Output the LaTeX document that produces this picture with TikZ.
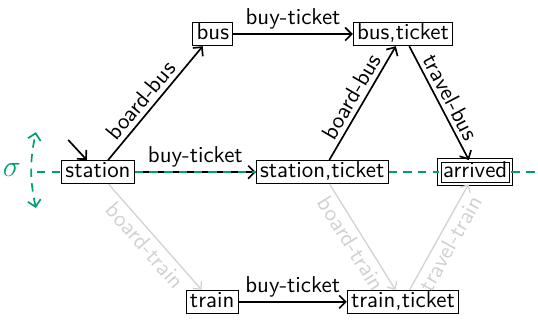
\documentclass[tikz,border=0pt]{standalone}
\usepackage{amsmath,amssymb}
\usepackage{xcolor}
\usepackage{tikz}
\usetikzlibrary{arrows.meta}
\usetikzlibrary{positioning}
\definecolor{verde}{RGB}{0,158,115}
\tikzset{
  estado/.style={draw, fill=white, inner sep=1.8pt, text height=1.5ex, text depth=.25ex, font=\fontsize{10.9}{13}\sffamily},
  final/.style={estado, double, double distance=1.2pt},
  seta/.style={-Straight Barb, thick},
  apagada/.style={seta, semithick, black!18, text=black!18},
  rotulo/.style={font=\fontsize{10.9}{13}\sffamily, sloped, inner sep=2pt},
  corte/.style={verde, thick, dash pattern=on 4pt off 3pt},
}

\begin{document}
\begin{tikzpicture}
  \useasboundingbox (0,0) rectangle (9,5.37);
  % states
  \node[estado] (station) at (1.64,2.49) {station};
  \node[estado] (bus) at (3.56,4.80) {bus};
  \node[estado] (busticket) at (6.74,4.80) {bus,ticket};
  \node[estado] (stticket) at (5.39,2.49) {station,ticket};
  \node[final] (arrived) at (7.95,2.49) {arrived};
  \node[estado] (train) at (3.55,0.32) {train};
  \node[estado] (trticket) at (6.74,0.32) {train,ticket};
  \coordinate (init) at (1.14,3.03);
  % transitions
  \draw[seta] (init) -- (station);
  \draw[seta] (station) -- node[rotulo, above, pos=.45] {board-bus} (bus);
  \draw[seta] (bus) -- node[rotulo, above] {buy-ticket} (busticket);
  \draw[seta] (station) -- node[rotulo, above] {buy-ticket} (stticket);
  \draw[seta] (stticket) -- node[rotulo, above] {board-bus} (busticket);
  \draw[seta] (busticket) -- node[rotulo, above] {travel-bus} (arrived);
  \draw[seta] (train) -- node[rotulo, above] {buy-ticket} (trticket);
  \draw[apagada] (station) -- node[rotulo, below] {board-train} (train);
  \draw[apagada] (stticket) -- node[rotulo, below] {board-train} (trticket);
  \draw[apagada] (trticket) -- node[rotulo, below] {travel-train} (arrived);
  % the cut
  \coordinate (cini) at (0.62,2.49);
  \coordinate (cfim) at (9,2.49);
  \coordinate (ctopo) at (0.60,3.16);
  \coordinate (cbase) at (0.60,1.89);
  \node[text=verde, font=\Large] (sigma) at (0.20,2.53) {$\sigma$};
  \draw[corte] (cini) -- (station.west);
  \draw[corte] (station.east) -- (stticket.west);
  \draw[corte] (stticket.east) -- (arrived.west);
  \draw[corte] (arrived.east) -- (cfim);
  \draw[corte, Straight Barb-Straight Barb] (cbase) to[bend left=12] (ctopo);
\end{tikzpicture}
\end{document}
